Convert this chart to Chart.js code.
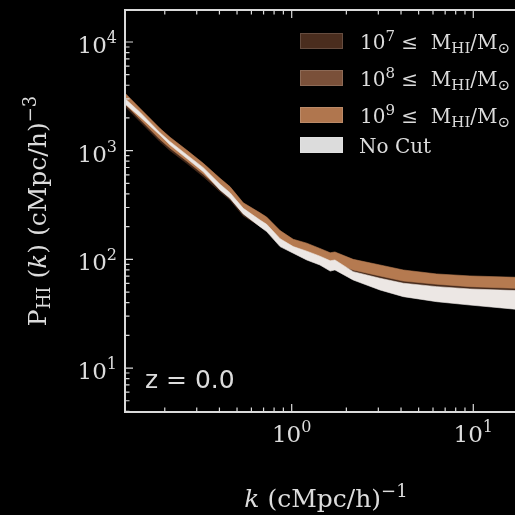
<!DOCTYPE html>
<html>
<head>
<meta charset="utf-8">
<script src="https://cdn.jsdelivr.net/npm/chart.js@4.4.1/dist/chart.umd.min.js"></script>
<style>
  html, body { margin: 0; padding: 0; background: #000; overflow: hidden; }
</style>
</head>
<body>
<canvas id="pk" width="515" height="515"></canvas>
<script>
// wavenumber k (cMpc/h)^-1
const kValues = [0.121, 0.146, 0.188, 0.214, 0.264, 0.326, 0.403, 0.457, 0.541, 0.669, 0.728, 0.863,
  1.02, 1.21, 1.43, 1.63, 1.73, 2.18, 3.06, 4.12, 6.29, 9.59, 16.98];

// band edges of P_HI(k)
const noCutUpper = [3006, 2260, 1466, 1211, 919, 698, 491, 411, 295, 230, 210, 155,
  131, 119, 107, 97, 98.7, 77.1, 67.0, 60.3, 56.1, 53.4, 51.6];
const noCutLower = [2692, 2056, 1393, 1127, 851, 641, 435, 365, 262, 200, 180, 131,
  114, 98.7, 88.8, 78, 80, 64.6, 52.3, 45.4, 40.8, 38.0, 34.8];
const cut9Upper = [3375, 2455, 1607, 1328, 1014, 765, 557, 467, 332, 268, 245, 184,
  153, 141, 126, 115, 117, 100, 88.8, 79.8, 73.4, 70.4, 68.4];
const cut9Lower = [2680, 1950, 1276, 1054, 805, 607, 442, 371, 264, 213, 195, 146,
  121, 112, 100, 91.3, 92.9, 79.8, 70.4, 63.2, 59.0, 56.1, 54.2];
const cut8Upper = [3310, 2405, 1575, 1300, 994, 750, 546, 458, 326, 263, 240, 180,
  150, 138, 123, 113, 115, 98, 87, 78.2, 71.9, 69.0, 67.0];
const cut8Lower = [2735, 1990, 1300, 1075, 820, 620, 451, 378, 269, 217, 199, 149,
  123, 114, 102, 93.1, 94.7, 81.4, 71.8, 64.5, 60.2, 57.2, 55.3];
const cut7Upper = [3240, 2357, 1543, 1275, 973, 734, 535, 448, 319, 257, 235, 177,
  147, 135, 121, 110, 112, 96, 85.2, 76.6, 70.5, 67.6, 65.7];
const cut7Lower = [2546, 1852, 1212, 1001, 765, 577, 420, 352, 251, 202, 185, 139,
  115, 106, 95, 86.7, 88.2, 75, 65.8, 58.8, 54.9, 52.2, 50.4];

const xTickPowers = [0, 1];
const yTickPowers = [1, 2, 3, 4];
const massCutPowers = ['7', '8', '9'];
const noCutLabel = 'No Cut';
const redshiftLabel = 'z = 0.0';

const bandColors = {
  noCut: 'rgb(236,231,228)',
  cut9: 'rgb(181,122,80)',
  cut8: 'rgb(125,82,56)',
  cut7: 'rgb(70,42,27)'
};
const legendColors = ['rgb(74,45,30)', 'rgb(122,80,57)', 'rgb(176,118,78)', 'rgb(220,220,220)'];
const axisColor = '#dadada';
const textColor = '#dcdcdc';
const SERIF = '"DejaVu Serif", serif';
const SANS = '"DejaVu Sans", sans-serif';

function band(upper, lower, color) {
  return [
    { data: kValues.map((k, i) => ({ x: k, y: upper[i] })), fill: '+1',
      backgroundColor: color, borderColor: color, borderWidth: 0.6 },
    { data: kValues.map((k, i) => ({ x: k, y: lower[i] })), fill: false,
      borderColor: color, borderWidth: 0.6 }
  ];
}

// first dataset is drawn on top, so No Cut goes first
const datasets = [
  ...band(noCutUpper, noCutLower, bandColors.noCut),
  ...band(cut9Upper, cut9Lower, bandColors.cut9),
  ...band(cut8Upper, cut8Lower, bandColors.cut8),
  ...band(cut7Upper, cut7Lower, bandColors.cut7)
];

// draw text made of pieces with super/subscripts
function drawRich(ctx, pieces, x, y, align) {
  let w = 0;
  pieces.forEach(p => { ctx.font = p.font; p.w = ctx.measureText(p.text).width; w += p.w; });
  let cx = align === 'center' ? x - w / 2 : align === 'right' ? x - w : x;
  ctx.textAlign = 'left';
  ctx.textBaseline = 'alphabetic';
  pieces.forEach(p => {
    ctx.font = p.font;
    ctx.fillText(p.text, cx, y + (p.dy || 0));
    cx += p.w;
  });
}

function powerLabel(n, size, supSize, rise) {
  return [
    { text: '10', font: size + 'px ' + SERIF },
    { text: String(n), font: supSize + 'px ' + SERIF, dy: -rise }
  ];
}

const overlay = {
  id: 'overlay',
  afterDraw(chart) {
    const ctx = chart.ctx;
    const a = chart.chartArea;
    const xs = chart.scales.x, ys = chart.scales.y;
    ctx.save();
    ctx.strokeStyle = axisColor;
    ctx.fillStyle = textColor;

    // spines
    ctx.lineWidth = 2;
    ctx.beginPath();
    ctx.moveTo(a.right + 2, a.top); ctx.lineTo(a.left, a.top);
    ctx.lineTo(a.left, a.bottom); ctx.lineTo(a.right + 2, a.bottom);
    ctx.stroke();

    // inward log ticks
    ctx.lineWidth = 1.2;
    const logTicks = (scale, fn) => {
      const lo = Math.floor(Math.log10(scale.min)), hi = Math.ceil(Math.log10(scale.max));
      for (let p = lo; p <= hi; p++) {
        for (let m = 1; m <= 9; m++) {
          const v = m * Math.pow(10, p);
          if (v < scale.min || v > scale.max) continue;
          fn(scale.getPixelForValue(v), m === 1 ? 8 : 4.5);
        }
      }
    };
    ctx.beginPath();
    logTicks(xs, (px, len) => {
      ctx.moveTo(px, a.bottom); ctx.lineTo(px, a.bottom - len);
      ctx.moveTo(px, a.top); ctx.lineTo(px, a.top + len);
    });
    logTicks(ys, (py, len) => {
      ctx.moveTo(a.left, py); ctx.lineTo(a.left + len, py);
    });
    ctx.stroke();

    // tick labels
    xTickPowers.forEach(n => {
      drawRich(ctx, powerLabel(n, 23, 16, 10), xs.getPixelForValue(Math.pow(10, n)), a.bottom + 30, 'center');
    });
    yTickPowers.forEach(n => {
      drawRich(ctx, powerLabel(n, 23, 16, 10), a.left - 8, ys.getPixelForValue(Math.pow(10, n)) + 11, 'right');
    });

    // axis titles
    const f = 25, s = 18;
    drawRich(ctx, [
      { text: 'k', font: 'italic ' + f + 'px ' + SERIF },
      { text: ' (cMpc/h)', font: f + 'px ' + SERIF },
      { text: '\u22121', font: s + 'px ' + SERIF, dy: -10 }
    ], 326, 507, 'center');

    ctx.save();
    ctx.translate(46, (a.top + a.bottom) / 2);
    ctx.rotate(-Math.PI / 2);
    drawRich(ctx, [
      { text: 'P', font: f + 'px ' + SERIF },
      { text: 'HI', font: s + 'px ' + SERIF, dy: 4 },
      { text: ' (', font: f + 'px ' + SERIF },
      { text: 'k', font: 'italic ' + f + 'px ' + SERIF },
      { text: ') (cMpc/h)', font: f + 'px ' + SERIF },
      { text: '\u22123', font: s + 'px ' + SERIF, dy: -10 }
    ], 0, 0, 'center');
    ctx.restore();

    // redshift note
    ctx.font = '25px ' + SANS;
    ctx.textAlign = 'left';
    ctx.fillText(redshiftLabel, 145, 388);

    // legend
    const lf = 20, ls = 15;
    const rowTops = [33, 70, 107, 137];
    rowTops.forEach((top, i) => {
      ctx.fillStyle = legendColors[i];
      ctx.fillRect(300, top, 43, 16);
      ctx.lineWidth = 1;
      ctx.strokeStyle = 'rgba(255,255,255,0.15)';
      ctx.strokeRect(300.5, top + 0.5, 42, 15);
      ctx.fillStyle = textColor;
      const base = top + 15.5;
      if (i < massCutPowers.length) {
        drawRich(ctx, [
          { text: '10', font: lf + 'px ' + SERIF },
          { text: massCutPowers[i], font: ls + 'px ' + SERIF, dy: -8 },
          { text: ' \u2264  M', font: lf + 'px ' + SERIF },
          { text: 'HI', font: ls + 'px ' + SERIF, dy: 4 },
          { text: '/M', font: lf + 'px ' + SERIF },
          { text: '\u2299', font: ls + 'px ' + SERIF, dy: 4 }
        ], 360, base, 'left');
      } else {
        drawRich(ctx, [{ text: noCutLabel, font: lf + 'px ' + SERIF }], 359, base, 'left');
      }
    });
    ctx.restore();
  }
};

new Chart(document.getElementById('pk'), {
  type: 'line',
  data: { datasets },
  options: {
    responsive: false,
    animation: false,
    devicePixelRatio: 1,
    layout: { padding: { left: 125, top: 10, right: 0, bottom: 103 } },
    scales: {
      x: { type: 'logarithmic', display: false, min: 0.1208, max: 16.97 },
      y: { type: 'logarithmic', display: false, min: 3.94, max: 19700 }
    },
    elements: { point: { radius: 0 }, line: { tension: 0 } },
    plugins: { legend: { display: false }, tooltip: { enabled: false } }
  },
  plugins: [overlay]
});
</script>
</body>
</html>
